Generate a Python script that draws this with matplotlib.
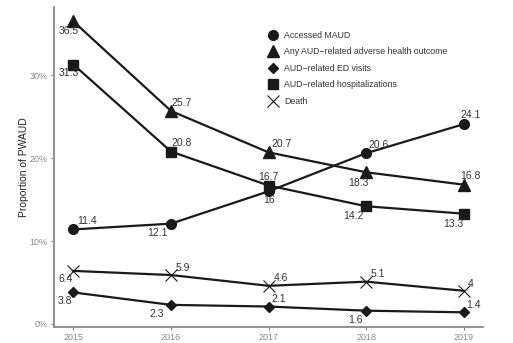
import matplotlib.pyplot as plt
from matplotlib.ticker import FuncFormatter

plt.rcParams['font.family'] = ['Liberation Sans', 'DejaVu Sans']

years = [2015, 2016, 2017, 2018, 2019]
maud = [11.4, 12.1, 16, 20.6, 24.1]
any_aud = [36.5, 25.7, 20.7, 18.3, 16.8]
ed_visits = [3.8, 2.3, 2.1, 1.6, 1.4]
hosp = [31.3, 20.8, 16.7, 14.2, 13.3]
death = [6.4, 5.9, 4.6, 5.1, 4]

series_names = ["Accessed MAUD", "Any AUD\u2212related adverse health outcome",
                "AUD\u2212related ED visits", "AUD\u2212related hospitalizations", "Death"]

# label offsets from the marker, in pixels (x right, y up)
offsets = {
    0: [(14, 8), (-14, -9), (0, -9), (12, 8), (7, 9)],
    1: [(-5, -10), (11, 8), (13, 8), (-8, -11), (7, 9)],
    2: [(-8, -9), (-14, -9), (10, 8), (-11, -9), (10, 7)],
    3: [(-5, -8), (11, 9), (0, 9), (-13, -10), (-10, -10)],
    4: [(-8, -8), (12, 7), (12, 8), (12, 8), (7, 7)],
}

series = [maud, any_aud, ed_visits, hosp, death]
markers = ["o", "^", "D", "s", "x"]
sizes = [7, 8, 5, 7, 9]

fig = plt.figure(figsize=(5.13, 3.43), dpi=100)
ax = fig.add_axes([0.105, 0.047, 0.837, 0.933])

line_col = "#1a1a1a"
px = 72 / 100
for i, vals in enumerate(series):
    ax.plot(years, vals, color=line_col, lw=1.6, marker=markers[i], ms=sizes[i],
            mew=1.0 if markers[i] != "x" else 0.8, mec=line_col, mfc=line_col,
            label=series_names[i])
    for j, v in enumerate(vals):
        dx, dy = offsets[i][j]
        ax.annotate(f"{v:g}", (years[j], v), xytext=(dx * px, dy * px),
                    textcoords="offset points", ha="center", va="center",
                    fontsize=7.5, color="#333333")

ax.set_xlim(2014.8, 2019.2)
ax.set_ylim(-0.355, 38.255)
ax.set_xticks(years)
ax.set_yticks([0, 10, 20, 30])
ax.yaxis.set_major_formatter(FuncFormatter(lambda v, p: f"{v:.0f}%"))
ax.tick_params(labelsize=6.5, labelcolor="#888888", color="#888888", length=2.5, width=0.8,
               pad=2)
ax.set_ylabel("Proportion of PWAUD", fontsize=7.5, color="#222222", labelpad=0)

for side in ["top", "right"]:
    ax.spines[side].set_visible(False)
for side in ["left", "bottom"]:
    ax.spines[side].set_color("#888888")
    ax.spines[side].set_linewidth(1.3)

# legend shows markers only
handles = []
for i in range(5):
    h, = ax.plot([], [], ls="none", marker=markers[i], ms=sizes[i], color=line_col,
                 mew=1.0 if markers[i] != "x" else 0.8)
    handles.append(h)
ax.legend(handles, series_names, loc="upper left", bbox_to_anchor=(0.48, 0.95),
          frameon=False, fontsize=6.3, labelcolor="#333333", handletextpad=0.7,
          labelspacing=0.86, handlelength=1.2)

fig.savefig("out.png", dpi=100)
